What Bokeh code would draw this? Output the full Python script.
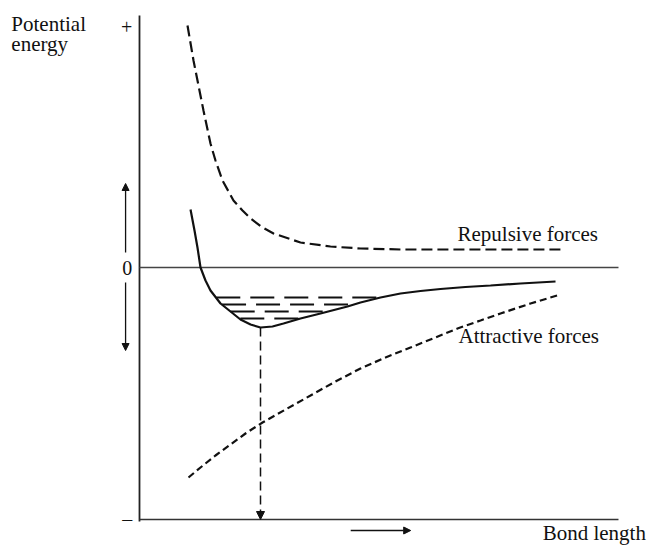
from bokeh.plotting import figure
from bokeh.models import Range1d, Label, Arrow, NormalHead
from bokeh.embed import file_html
from bokeh.resources import INLINE

# ---- data (bond length units on x, energy units on y) ----
repulsive_x = [1.000, 1.125, 1.229, 1.333, 1.479, 1.583, 1.729, 1.958, 2.146, 2.313,
               2.563, 2.792, 3.354, 3.979, 4.604, 5.438, 6.479, 7.521, 8.771]
repulsive_y = [9.68, 8.28, 7.28, 6.28, 4.96, 4.28, 3.48, 2.68, 2.28, 1.96,
               1.60, 1.36, 1.00, 0.84, 0.76, 0.72, 0.72, 0.72, 0.72]

total_x = [1.063, 1.146, 1.208, 1.271, 1.375, 1.479, 1.688, 1.896, 2.104, 2.313, 2.521,
           2.771, 3.000, 3.354, 3.771, 4.333, 4.604, 5.021, 5.438, 5.854, 6.271,
           6.792, 7.313, 7.938, 8.667]
total_y = [2.32, 1.48, 0.80, 0.00, -0.52, -0.92, -1.44, -1.76, -2.08, -2.28, -2.40,
           -2.36, -2.24, -2.04, -1.84, -1.56, -1.40, -1.20, -1.04, -0.94, -0.86,
           -0.78, -0.72, -0.64, -0.56]

attractive_x = [1.021, 1.271, 1.583, 1.896, 2.208, 2.563, 3.042, 3.563, 4.083, 4.604,
                5.125, 5.646, 6.167, 6.625, 7.104, 7.521, 8.146, 8.771]
attractive_y = [-8.40, -8.00, -7.52, -7.08, -6.64, -6.20, -5.68, -5.12, -4.56, -4.04,
                -3.60, -3.20, -2.80, -2.44, -2.12, -1.84, -1.44, -1.08]

level_y = [-1.20, -1.48, -1.76, -2.04]
level_x0 = [1.60, 1.72, 1.90, 2.10]
level_x1 = [4.98, 4.45, 3.90, 3.36]

equilibrium_x = 2.521
equilibrium_y = -2.40

# axis extent (bond length 0..9.98, energy -10.08..10.08)
axis_x = [0.0, 9.979]
axis_y = [-10.08, 10.08]

y_tick_values = [9.64, 0.0, -10.04]
y_tick_labels = ["+", "0", "\u2013"]

SERIF = "Liberation Serif"
INK = "#111111"

p = figure(width=648, height=548, output_backend="svg", toolbar_location=None,
           x_range=Range1d(-2.8958, 10.6042), y_range=Range1d(-11.24, 10.68),
           x_axis_location=None, y_axis_location=None, min_border=0)
p.title.visible = False
p.outline_line_color = None
p.grid.visible = False
p.background_fill_color = "white"
p.border_fill_color = "white"

# drawn axes and zero line
p.line([axis_x[0], axis_x[0]], [axis_y[1], axis_y[0] - 0.08], line_color="#222222", line_width=1.8)
p.line(axis_x, [axis_y[0], axis_y[0]], line_color="#333333", line_width=1.6)
p.line(axis_x, [0, 0], line_color="#444444", line_width=1.3)

# curves
p.line(repulsive_x, repulsive_y, line_color=INK, line_width=2.2, line_dash="11 5")
p.line(attractive_x, attractive_y, line_color=INK, line_width=2.2, line_dash="7 4")
p.line(total_x, total_y, line_color=INK, line_width=2.2)

# vibrational levels
for yy, xa, xb in zip(level_y, level_x0, level_x1):
    p.line([xa, xb], [yy, yy], line_color=INK, line_width=2, line_dash="24 10")

# equilibrium bond length drop
p.add_layout(Arrow(end=NormalHead(size=8, fill_color=INK, line_color=INK),
                   x_start=equilibrium_x, y_start=equilibrium_y,
                   x_end=equilibrium_x, y_end=axis_y[0],
                   line_color=INK, line_width=1.5, line_dash="9 5"))

# left double arrow (split around the 0 label)
p.add_layout(Arrow(end=NormalHead(size=7, fill_color=INK, line_color=INK),
                   x_start=-0.29, y_start=0.6, x_end=-0.29, y_end=3.36,
                   line_color=INK, line_width=1.3))
p.add_layout(Arrow(end=NormalHead(size=7, fill_color=INK, line_color=INK),
                   x_start=-0.29, y_start=-0.6, x_end=-0.29, y_end=-3.32,
                   line_color=INK, line_width=1.3))

# bond-length direction arrow
p.add_layout(Arrow(end=NormalHead(size=7, fill_color=INK, line_color=INK),
                   x_start=4.40, y_start=-10.52, x_end=5.65, y_end=-10.52,
                   line_color=INK, line_width=1.3))

# energy tick labels
for v, s in zip(y_tick_values, y_tick_labels):
    p.add_layout(Label(x=-0.15, y=v, text=s, text_font=SERIF, text_font_size="20px",
                       text_color=INK, text_baseline="middle", text_align="right"))

# texts
def add_text(txt, x, y):
    p.add_layout(Label(x=x, y=y, text=txt, text_font=SERIF, text_font_size="21px",
                       text_color=INK, text_baseline="alphabetic", text_align="left"))

add_text("Potential", -2.67, 9.75)
add_text("energy", -2.67, 8.95)
add_text("Repulsive forces", 6.625, 1.36)
add_text("Attractive forces", 6.646, -2.72)
add_text("Bond length", 8.40, -10.62)

open("out.html", "w").write(file_html(p, INLINE))
